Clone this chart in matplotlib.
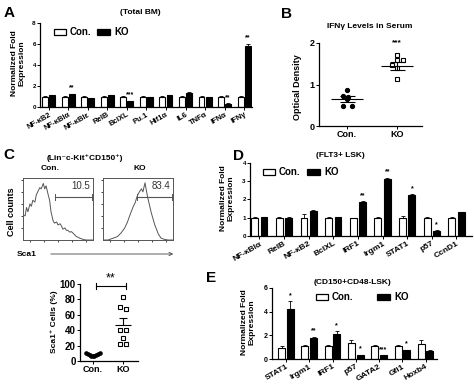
import matplotlib
matplotlib.use("Agg")
import matplotlib.pyplot as plt
from matplotlib.patches import Rectangle, FancyArrowPatch

W, H = 474, 391
plt.rcParams["font.family"] = ["Liberation Sans", "DejaVu Sans"]
plt.rcParams["font.weight"] = "bold"
plt.rcParams["axes.linewidth"] = 0.9

# ---------------------------------------------------------------- data

# A: total BM
a_genes = ["NF-κB2", "NF-κBIα", "NF-κBIε", "RelB", "BclXL", "Pu.1",
           "Hif1α", "IL6", "TNFα", "IFNα", "IFNγ"]
a_con = [1.0, 1.0, 1.0, 1.0, 1.0, 1.0, 1.0, 1.0, 1.0, 1.0, 1.0]
a_con_err = [0.05, 0.05, 0.04, 0.04, 0.06, 0.05, 0.04, 0.05, 0.04, 0.06, 0.05]
a_ko = [1.1, 1.2, 0.85, 1.1, 0.55, 0.95, 1.1, 1.35, 0.95, 0.3, 5.8]
a_ko_err = [0.07, 0.05, 0.03, 0.04, 0.06, 0.04, 0.04, 0.08, 0.03, 0.04, 0.2]
a_stars = ["", "**", "", "", "***", "", "", "", "", "**", "**"]

# B: IFNγ in serum
b_con = [0.87, 0.73, 0.70, 0.65, 0.48, 0.48]
b_con_dx = [0.0, -0.09, 0.02, 0.0, -0.09, 0.1]
b_ko = [1.72, 1.58, 1.58, 1.47, 1.40, 1.13]
b_ko_dx = [0.0, 0.0, 0.11, -0.1, 0.0, 0.0]
b_con_mean, b_con_sem = 0.65, 0.07
b_ko_mean, b_ko_sem = 1.45, 0.09

# C: Sca1 histograms (Sca1 position 0..1, relative counts)
c_con_pos = [0.0, 0.03, 0.05, 0.07, 0.1, 0.12, 0.14, 0.17, 0.19, 0.21, 0.24,
             0.26, 0.29, 0.31, 0.33, 0.36, 0.38, 0.4, 0.43, 0.45, 0.48, 0.5,
             0.53, 0.55, 0.57, 0.6, 0.62, 0.64, 0.67, 0.69, 0.71, 0.76, 0.81,
             0.86, 0.9, 1.0]
c_con_cnt = [0.42, 0.4, 0.54, 0.47, 0.6, 0.56, 0.66, 0.63, 0.75, 0.8, 0.87,
             0.85, 0.94, 0.85, 0.9, 0.75, 0.66, 0.47, 0.32, 0.28, 0.3, 0.25,
             0.27, 0.23, 0.18, 0.2, 0.16, 0.16, 0.13, 0.14, 0.12, 0.06, 0.03,
             0.01, 0.0, 0.0]
c_ko_pos = [0.0, 0.07, 0.12, 0.17, 0.21, 0.26, 0.31, 0.35, 0.38, 0.43, 0.46,
            0.48, 0.5, 0.52, 0.55, 0.57, 0.6, 0.62, 0.64, 0.67, 0.69, 0.74,
            0.79, 0.83, 0.88, 0.93, 1.0]
c_ko_cnt = [0.0, 0.0, 0.02, 0.04, 0.06, 0.12, 0.2, 0.3, 0.4, 0.55, 0.62, 0.7,
            0.76, 0.8, 0.85, 0.8, 0.95, 0.82, 0.7, 0.55, 0.45, 0.25, 0.1, 0.03,
            0.01, 0.0, 0.0]
c_con_gate, c_ko_gate = "10.5", "83.4"

# C: Sca1+ cells (%)
c_con_pct = [10, 9, 8, 7, 6, 7, 8, 9, 10]
c_con_dx = [-0.22, -0.16, -0.1, -0.05, 0.0, 0.05, 0.1, 0.16, 0.22]
c_ko_pct = [83, 70, 67, 40, 40, 30, 22, 22]
c_ko_dx = [0.0, -0.1, 0.1, -0.1, 0.1, 0.0, -0.1, 0.1]
c_ko_mean, c_ko_sem = 47, 9
c_con_mean = 8

# D: FLT3+ LSK
d_genes = ["NF-κBIα", "RelB", "NF-κB2", "BclXL", "IRF1", "Irgm1", "STAT1",
           "p57", "CcnD1"]
d_con = [1.0, 1.0, 1.0, 1.0, 1.0, 1.0, 1.0, 1.0, 1.0]
d_con_err = [0.05, 0.04, 0.18, 0.04, 0.0, 0.06, 0.08, 0.06, 0.06]
d_ko = [1.03, 1.0, 1.35, 1.03, 1.87, 3.1, 2.22, 0.3, 1.3]
d_ko_err = [0.02, 0.05, 0.08, 0.02, 0.04, 0.1, 0.06, 0.03, 0.04]
d_stars = ["", "", "", "", "**", "**", "*", "*", ""]

# E: CD150+CD48-LSK
e_genes = ["STAT1", "Irgm1", "IRF1", "p57", "GATA2", "Gfi1", "Hoxb4"]
e_con = [0.95, 1.1, 1.1, 1.35, 1.1, 1.1, 1.3]
e_con_err = [0.15, 0.05, 0.05, 0.25, 0.05, 0.05, 0.3]
e_ko = [4.2, 1.8, 2.15, 0.3, 0.3, 0.75, 0.7]
e_ko_err = [0.7, 0.08, 0.2, 0.05, 0.03, 0.05, 0.05]
e_stars = ["*", "**", "*", "*", "***", "*", ""]


# ---------------------------------------------------------------- helpers

def px_axes(fig, x0, y0, x1, y1):
    return fig.add_axes([x0 / W, 1 - y1 / H, (x1 - x0) / W, (y1 - y0) / H])


def ftext(fig, x, y, s, **kw):
    kw.setdefault("ha", "center")
    kw.setdefault("va", "center")
    fig.text(x / W, 1 - y / H, s, **kw)


def fbox(fig, x0, y0, x1, y1, color):
    fig.patches.append(Rectangle((x0 / W, 1 - y1 / H), (x1 - x0) / W,
                                 (y1 - y0) / H, transform=fig.transFigure,
                                 facecolor=color, edgecolor="black",
                                 linewidth=0.9))


def legend(fig, x_con, x_ko, y, fs):
    fbox(fig, x_con, y - 3, x_con + 12, y + 3, "white")
    ftext(fig, x_con + 16, y, "Con.", ha="left", fontsize=fs)
    fbox(fig, x_ko, y - 3, x_ko + 13, y + 3, "black")
    ftext(fig, x_ko + 17, y, "KO", ha="left", fontsize=fs)


def open_axes(ax, fs):
    for side in ("top", "right"):
        ax.spines[side].set_visible(False)
    ax.tick_params(length=2, width=0.7, labelsize=fs, pad=1)


def paired_bars(ax, genes, con, con_err, ko, ko_err, stars, off, width,
                tick_fs, star_fs, rot=30):
    xs = list(range(len(genes)))
    ekw = dict(elinewidth=0.6, capsize=1.2, capthick=0.6)
    n = len(genes)
    ax.bar([x - off for x in xs], con, width, yerr=[[0] * n, con_err],
           color="white", edgecolor="black", linewidth=0.8, error_kw=ekw)
    ax.bar([x + off for x in xs], ko, width, yerr=[[0] * n, ko_err],
           color="black", edgecolor="black", linewidth=0.8, error_kw=ekw)
    top = ax.get_ylim()[1]
    for x, k, e, s in zip(xs, ko, ko_err, stars):
        if s:
            ax.text(x + off, k + e + top * 0.03, s, ha="center", va="bottom",
                    fontsize=star_fs)
    ax.set_xticks(xs)
    ax.set_xticklabels(genes, rotation=rot, ha="right",
                       rotation_mode="anchor", fontsize=tick_fs)


# ---------------------------------------------------------------- figure

fig = plt.figure(figsize=(W / 100, H / 100), dpi=100, facecolor="white")

# panel letters
for x, y, s in ((9, 13, "A"), (286, 14, "B"), (9, 155, "C"),
                (238, 156, "D"), (211, 278, "E")):
    ftext(fig, x, y, s, fontsize=11)

# ---- A
ax = px_axes(fig, 40, 23, 252, 107)
ax.set_ylim(0, 8)
ax.set_xlim(-0.44, 10.4)
open_axes(ax, 4.5)
paired_bars(ax, a_genes, a_con, a_con_err, a_ko, a_ko_err, a_stars,
            0.18, 0.3, 5.5, 5)
ax.set_yticks([0, 2, 4, 6, 8])
ax.tick_params(axis="x", length=2)
ftext(fig, 140, 13, "(Total BM)", fontsize=6)
ftext(fig, 18, 63, "Normalized Fold\nExpression", rotation=90, fontsize=6,
      linespacing=1.1)
legend(fig, 54, 97, 32, 7)

# ---- B
ax = px_axes(fig, 319, 43, 422, 126)
ax.set_ylim(0, 2)
ax.set_xlim(0.44, 2.5)
open_axes(ax, 6.5)
ax.set_yticks([0, 1, 2])
ax.set_xticks([1, 2])
ax.set_xticklabels(["Con.", "KO"], fontsize=6.5)
ax.plot([1 + d for d in b_con_dx], b_con, "o", color="black", ms=2.8,
        clip_on=False)
ax.plot([2 + d for d in b_ko_dx], b_ko, "s", mfc="white", mec="black",
        ms=3.2, mew=0.8, clip_on=False)
for cx, m, s in ((1, b_con_mean, b_con_sem), (2, b_ko_mean, b_ko_sem)):
    ax.hlines(m, cx - 0.32, cx + 0.32, color="black", lw=0.8)
    ax.hlines([m - s, m + s], cx - 0.15, cx + 0.15, color="black", lw=0.8)
    ax.vlines(cx, m - s, m + s, color="black", lw=0.8)
ax.text(2, 1.92, "***", ha="center", va="bottom", fontsize=6)
ftext(fig, 370, 26, "IFNγ Levels in Serum", fontsize=6)
ftext(fig, 298, 87, "Optical Density", rotation=90, fontsize=6.5)

# ---- C histograms
for (x0, x1, pos, cnt, gate, g0, name) in (
        (23, 93, c_con_pos, c_con_cnt, c_con_gate, 0.45, "Con."),
        (103, 173, c_ko_pos, c_ko_cnt, c_ko_gate, 0.48, "KO")):
    ax = px_axes(fig, x0, 178, x1, 240)
    ax.plot(pos, cnt, color="#555555", lw=0.7)
    ax.set_xlim(0, 1)
    ax.set_ylim(0, 1.03)
    ax.set_xticks([0.1, 0.3, 0.5, 0.7, 0.9])
    ax.set_yticks([0.2, 0.4, 0.6, 0.8, 1.0])
    ax.tick_params(length=1.5, width=0.5, labelbottom=False, labelleft=False)
    for sp in ax.spines.values():
        sp.set_linewidth(0.7)
        sp.set_color("#555555")
    ax.plot([g0, 0.98], [0.72, 0.72], color="#555555", lw=0.8)
    ax.plot([g0, g0], [0.67, 0.77], color="#555555", lw=0.7)
    ax.plot([0.98, 0.98], [0.67, 0.77], color="#555555", lw=0.7)
    ax.text(0.96, 0.9, gate, ha="right", va="center", fontsize=7,
            fontweight="normal", color="#333333")
    ftext(fig, (x0 + x1) / 2 - 8 if name == "Con." else (x0 + x1) / 2 + 2,
          169, name, fontsize=6)
ftext(fig, 85, 158, "(Lin⁻c-Kit⁺CD150⁺)", fontsize=6)
ftext(fig, 12, 212, "Cell counts", rotation=90, fontsize=6.5)
ftext(fig, 17, 254, "Sca1", ha="left", fontsize=6)
fig.patches.append(FancyArrowPatch((48 / W, 1 - 254 / H), (176 / W, 1 - 254 / H),
                                   transform=fig.transFigure, arrowstyle="->",
                                   mutation_scale=6, lw=0.6, color="#444444"))

# ---- C scatter
ax = px_axes(fig, 80, 284, 138, 361)
ax.set_ylim(0, 100)
ax.set_xlim(0.57, 2.5)
open_axes(ax, 7)
ax.set_yticks([0, 20, 40, 60, 80, 100])
ax.set_xticks([1, 2])
ax.set_xticklabels(["Con.", "KO"], fontsize=6.5)
ax.plot([1 + d for d in c_con_dx], c_con_pct, "o", color="black", ms=2.3,
        clip_on=False)
ax.plot([2 + d for d in c_ko_dx], c_ko_pct, "s", mfc="white", mec="black",
        ms=3.3, mew=0.8, clip_on=False)
ax.hlines(c_ko_mean, 1.72, 2.28, color="black", lw=0.8)
ax.hlines(c_ko_mean + c_ko_sem, 1.88, 2.12, color="black", lw=0.8)
ax.vlines(2, c_ko_mean, c_ko_mean + c_ko_sem, color="black", lw=0.8)
ax.hlines(c_con_mean, 0.8, 1.2, color="black", lw=0.8)
ax.plot([1.1, 2.1], [97, 97], color="black", lw=0.8, clip_on=False)
ax.plot([1.1, 1.1], [93, 101], color="black", lw=0.8, clip_on=False)
ax.plot([2.1, 2.1], [93, 101], color="black", lw=0.8, clip_on=False)
ax.text(1.6, 100, "**", ha="center", va="bottom", fontsize=9,
        fontweight="normal")
ftext(fig, 54, 322, "Sca1⁺ Cells (%)", rotation=90, fontsize=6)

# ---- D
ax = px_axes(fig, 250, 163, 472, 236)
ax.set_ylim(0, 4)
ax.set_xlim(-0.38, 8.63)
open_axes(ax, 4.5)
paired_bars(ax, d_genes, d_con, d_con_err, d_ko, d_ko_err, d_stars,
            0.19, 0.28, 6, 5)
ax.set_yticks([0, 1, 2, 3, 4])
ftext(fig, 227, 198, "Normalized Fold\nExpression", rotation=90, fontsize=6,
      linespacing=1.1)
ftext(fig, 340, 155, "(FLT3+ LSK)", fontsize=6)
legend(fig, 263, 307, 172, 7)

# ---- E
ax = px_axes(fig, 272, 288, 437, 359)
ax.set_ylim(0, 6)
ax.set_xlim(-0.6, 6.49)
open_axes(ax, 5)
paired_bars(ax, e_genes, e_con, e_con_err, e_ko, e_ko_err, e_stars,
            0.185, 0.3, 6, 5)
ax.set_yticks([0, 2, 4, 6])
ftext(fig, 248, 322, "Normalized Fold\nExpression", rotation=90, fontsize=6,
      linespacing=1.1)
ftext(fig, 352, 282, "(CD150+CD48-LSK)", fontsize=6)
legend(fig, 316, 377, 297, 7)

fig.savefig("out.png", dpi=100, facecolor="white")
